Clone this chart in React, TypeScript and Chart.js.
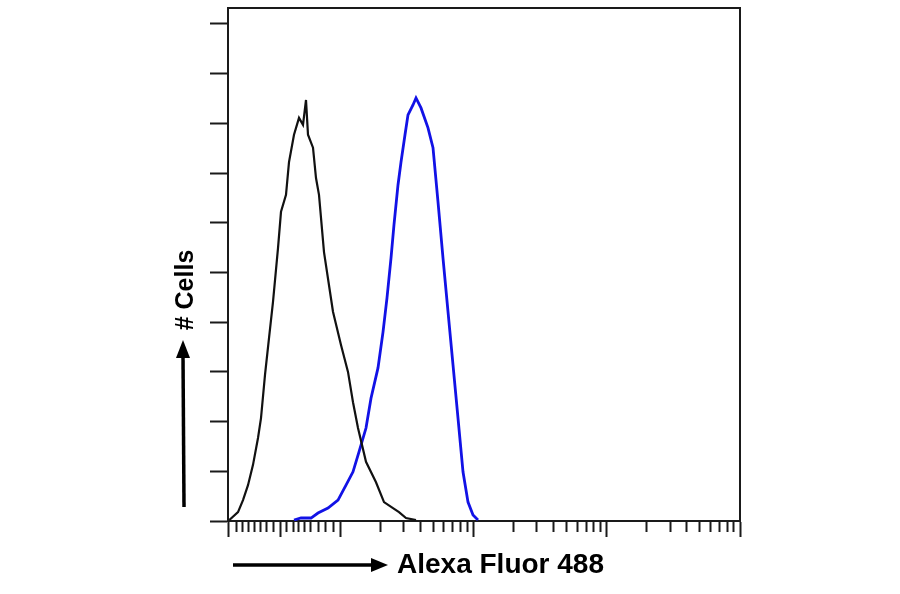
import { useEffect, useRef } from 'react';
import { Chart, registerables } from 'chart.js';

Chart.register(...registerables);

// x is fluorescence in log decades (1 = 10^1 ... 4 = 10^4), y is cell count
const CONTROL_X = [0.17, 0.235, 0.2725, 0.31, 0.3475, 0.385, 0.4075, 0.4375, 0.4675, 0.4975, 0.535, 0.5575, 0.595, 0.6175, 0.655, 0.6925, 0.7225, 0.745, 0.76, 0.7975, 0.82, 0.8425, 0.88, 0.9475, 1.0075, 1.06, 1.0975, 1.135, 1.195, 1.27, 1.33, 1.3975, 1.4425, 1.495, 1.57];
const CONTROL_Y = [0.2, 1.8, 4.2, 7.2, 11.3, 16.7, 20.7, 29.4, 36.8, 44.1, 54.9, 62.2, 65.6, 72.2, 77.7, 81.1, 79.7, 84.7, 77.7, 75.1, 69.0, 65.6, 54.1, 42.1, 35.4, 30.0, 23.9, 18.7, 11.9, 7.8, 3.8, 2.6, 1.8, 0.6, 0.2];

const STAINED_X = [0.655, 0.7075, 0.7825, 0.835, 0.91, 0.985, 1.045, 1.0975, 1.1425, 1.195, 1.2325, 1.285, 1.3225, 1.3525, 1.3825, 1.405, 1.435, 1.4575, 1.4875, 1.51, 1.5475, 1.57, 1.6075, 1.66, 1.6975, 1.735, 1.7725, 1.81, 1.8475, 1.885, 1.9225, 1.96, 1.9975, 2.035];
const STAINED_Y = [0.2, 0.6, 0.6, 1.6, 2.6, 4.2, 7.2, 9.9, 13.9, 18.7, 24.7, 30.8, 38.0, 44.9, 52.9, 59.6, 67.6, 72.2, 77.7, 81.7, 83.7, 85.1, 83.1, 79.1, 75.1, 64.2, 52.9, 42.1, 31.4, 20.7, 9.9, 3.8, 1.2, 0.2];

const X_TICKS = [
  0.16, 0.22, 0.265, 0.31, 0.355, 0.4, 0.445, 0.5, 0.55, 0.6, 0.65, 0.685, 0.73, 0.775, 0.835, 0.89, 0.95,
  1, 1.301, 1.477, 1.602, 1.699, 1.778, 1.845, 1.903, 1.954,
  2, 2.301, 2.477, 2.602, 2.699, 2.778, 2.845, 2.903, 2.954,
  3, 3.301, 3.477, 3.602, 3.699, 3.778, 3.845, 3.903, 3.954, 4,
];
const X_MAJOR = [0.16, 0.55, 1, 2, 3, 4];
const Y_TICKS = [0, 10, 20, 30, 40, 50, 60, 70, 80, 90, 100];

const X_MIN = 0.16;
const X_MAX = 4;
const Y_MAX = 103.2;

const X_TITLE = 'Alexa Fluor 488';
const Y_TITLE = '# Cells';

const AXIS_COLOR = '#1a1a1a';

// arrows + axis titles, placed like the original cytometry export
const axisLabels = {
  id: 'axisLabels',
  afterDraw(chart: Chart) {
    const ctx = chart.ctx;
    ctx.save();
    ctx.fillStyle = '#000';
    ctx.strokeStyle = '#000';
    ctx.lineWidth = 3.5;

    // x arrow
    ctx.beginPath();
    ctx.moveTo(233, 565);
    ctx.lineTo(374, 565);
    ctx.stroke();
    ctx.beginPath();
    ctx.moveTo(388, 565);
    ctx.lineTo(371, 558);
    ctx.lineTo(371, 572);
    ctx.closePath();
    ctx.fill();

    ctx.font = 'bold 28px "Liberation Sans", Arial, sans-serif';
    ctx.textBaseline = 'alphabetic';
    ctx.textAlign = 'left';
    ctx.fillText(X_TITLE, 397, 573);

    // y arrow
    ctx.beginPath();
    ctx.moveTo(184, 507);
    ctx.lineTo(183, 355);
    ctx.stroke();
    ctx.beginPath();
    ctx.moveTo(183, 340);
    ctx.lineTo(176, 358);
    ctx.lineTo(190, 358);
    ctx.closePath();
    ctx.fill();

    ctx.translate(193, 290);
    ctx.rotate(-Math.PI / 2);
    ctx.textAlign = 'center';
    ctx.font = 'bold 25px "Liberation Sans", Arial, sans-serif';
    ctx.fillText(Y_TITLE, 0, 0);
    ctx.restore();
  },
};

const App = () => {
  const canvasRef = useRef<HTMLCanvasElement | null>(null);

  useEffect(() => {
    const ctx = canvasRef.current?.getContext('2d');
    if (!ctx) return;

    const chart = new Chart(ctx, {
      type: 'line',
      data: {
        datasets: [
          {
            label: 'Isotype control',
            data: CONTROL_X.map((x, i) => ({ x, y: CONTROL_Y[i] })),
            borderColor: '#111',
            borderWidth: 2.2,
            pointRadius: 0,
            tension: 0,
            fill: false,
          },
          {
            label: 'Stained',
            data: STAINED_X.map((x, i) => ({ x, y: STAINED_Y[i] })),
            borderColor: '#1212e6',
            borderWidth: 2.8,
            pointRadius: 0,
            tension: 0,
            fill: false,
          },
        ],
      },
      options: {
        animation: false,
        responsive: true,
        maintainAspectRatio: false,
        layout: { padding: { left: 0, top: 8, right: 160, bottom: 0 } },
        plugins: {
          legend: { display: false },
          tooltip: { enabled: false },
        },
        scales: {
          x: {
            type: 'linear',
            position: 'bottom',
            min: X_MIN,
            max: X_MAX,
            afterBuildTicks: (scale) => {
              scale.ticks = X_TICKS.map((value) => ({ value }));
            },
            afterFit: (scale) => {
              scale.height = 73;
            },
            ticks: { display: false },
            grid: {
              drawOnChartArea: false,
              tickLength: 16,
              tickWidth: 2,
              tickColor: AXIS_COLOR,
              tickBorderDash: (c) => (X_MAJOR.includes(c.tick?.value) ? [] : [10, 30]),
            },
            border: { display: true, width: 2, color: AXIS_COLOR },
          },
          x2: {
            type: 'linear',
            position: 'top',
            min: X_MIN,
            max: X_MAX,
            afterFit: (scale) => {
              scale.height = 0;
            },
            ticks: { display: false },
            grid: { display: false, drawTicks: false },
            border: { display: true, width: 2, color: AXIS_COLOR },
          },
          y: {
            type: 'linear',
            position: 'left',
            min: 0,
            max: Y_MAX,
            afterBuildTicks: (scale) => {
              scale.ticks = Y_TICKS.map((value) => ({ value }));
            },
            afterFit: (scale) => {
              scale.width = 228;
            },
            ticks: { display: false },
            grid: {
              drawOnChartArea: false,
              tickLength: 18,
              tickWidth: 2,
              tickColor: AXIS_COLOR,
            },
            border: { display: true, width: 2, color: AXIS_COLOR },
          },
          y2: {
            type: 'linear',
            position: 'right',
            min: 0,
            max: Y_MAX,
            afterFit: (scale) => {
              scale.width = 0;
            },
            ticks: { display: false },
            grid: { display: false, drawTicks: false },
            border: { display: true, width: 2, color: AXIS_COLOR },
          },
        },
      },
      plugins: [axisLabels],
    });

    return () => {
      chart.destroy();
    };
  }, []);

  return (
    <div style={{ position: 'fixed', left: 0, top: 0, width: 900, height: 594, background: '#fff' }}>
      <canvas ref={canvasRef}></canvas>
    </div>
  );
};

export default App;
